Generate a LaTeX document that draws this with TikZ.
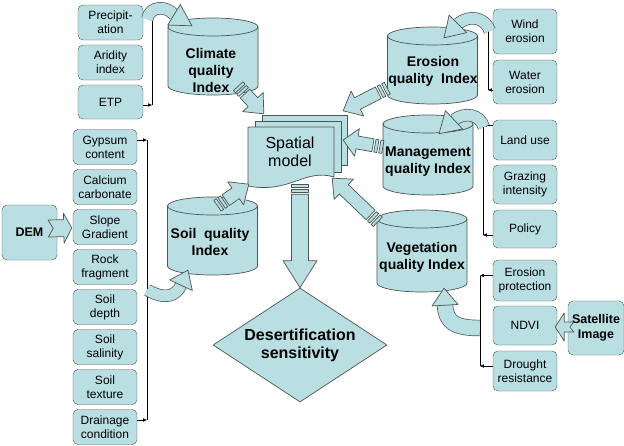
\documentclass[tikz,border=0pt]{standalone}
\usepackage{fontspec}
\setmainfont{Liberation Sans}
\usetikzlibrary{calc,shapes.geometric,arrows.meta}

\definecolor{boxc}{RGB}{185,223,226}
\definecolor{linec}{RGB}{75,85,85}

\tikzset{
  factor/.style={draw=linec, fill=boxc, rounded corners=5pt, align=center, inner sep=1pt,
    minimum width=64pt, font=\fontsize{12}{14}\selectfont},
  source/.style={factor, font=\bfseries\fontsize{12.5}{15}\selectfont},
  cyltext/.style={align=center, font=\bfseries\fontsize{14}{17}\selectfont},
  cylbody/.style={draw=linec, fill=boxc, line width=0.7pt},
  bus/.style={black, line width=0.5pt},
  branch/.style={bus, -{Latex[length=4pt,width=3.5pt]}},
  fat/.style={draw=linec, fill=boxc, line width=0.7pt, line join=round},
  curvy/.style={draw=linec, line width=0.7pt, double=boxc, double distance=#1},
}

% straight block arrow with a striped tail: from, to, shaft half width, head half width, head length
\newcommand\bandpiece[3]{%
  \coordinate (bP) at ($(bA)!#1pt!(bB)$);
  \coordinate (bQ) at ($(bA)!#2pt!(bB)$);
  \filldraw[fat] ($(bP)!#3pt!90:(bB)$) -- ($(bQ)!#3pt!-90:(bA)$) -- ($(bQ)!#3pt!90:(bA)$) -- ($(bP)!#3pt!-90:(bB)$) -- cycle;
}
\newcommand\stripearrow[5]{%
  \coordinate (bA) at (#1);
  \coordinate (bB) at (#2);
  \coordinate (bC) at ($(bB)!#5pt!(bA)$);
  \coordinate (bS) at ($(bA)!10pt!(bB)$);
  \filldraw[fat] ($(bS)!#3pt!90:(bB)$) -- ($(bC)!#3pt!-90:(bA)$) -- ($(bC)!#4pt!-90:(bA)$) -- (bB)
    -- ($(bC)!#4pt!90:(bA)$) -- ($(bC)!#3pt!90:(bA)$) -- ($(bS)!#3pt!-90:(bB)$) -- cycle;
  \bandpiece{0}{3}{#3}
  \bandpiece{5}{8}{#3}
}
% block arrow with a notched tail: from, to, shaft, head, head length, notch
\newcommand\notcharrow[6]{%
  \coordinate (bA) at (#1);
  \coordinate (bB) at (#2);
  \coordinate (bC) at ($(bB)!#5pt!(bA)$);
  \coordinate (bN) at ($(bA)!#6pt!(bB)$);
  \filldraw[fat] ($(bA)!#3pt!90:(bB)$) -- ($(bC)!#3pt!-90:(bA)$) -- ($(bC)!#4pt!-90:(bA)$) -- (bB)
    -- ($(bC)!#4pt!90:(bA)$) -- ($(bC)!#3pt!90:(bA)$) -- ($(bA)!#3pt!-90:(bB)$) -- (bN) -- cycle;
}
% head of a bent arrow: base, tip, half width
\newcommand\tiphead[3]{%
  \coordinate (bA) at (#1);
  \coordinate (bB) at (#2);
  \filldraw[fat] ($(bA)!#3pt!90:(bB)$) -- (bB) -- ($(bA)!#3pt!-90:(bB)$) -- cycle;
}
% index cylinder: name, centre x, top, bottom
\newcommand\cylshape[4]{%
  \filldraw[cylbody] (#2-45,#3+9) -- (#2-45,#4-9) arc[start angle=180, end angle=360, x radius=45pt, y radius=9pt]
    -- (#2+45,#3+9) arc[start angle=0, end angle=180, x radius=45pt, y radius=9pt] -- cycle;
  \draw[cylbody, fill=none] (#2-45,#3+9) arc[start angle=180, end angle=360, x radius=45pt, y radius=9pt];
  \node[inner sep=0pt, minimum width=90pt, minimum height={#4-#3}] (#1) at ({#2},{(#3+#4)/2}) {};
}

\begin{document}
\begin{tikzpicture}[x=1pt, y=-1pt]
  \useasboundingbox (0,0) rectangle (624,445);

  % climate inputs
  \node[factor, minimum width=65pt, minimum height=35pt] (prec) at (110.5,22.5) {Precipit-\\ation};
  \node[factor, minimum width=65pt, minimum height=35pt] (arid) at (110.5,62.5) {Aridity\\index};
  \node[factor, minimum width=65pt, minimum height=34pt] (etp) at (110.5,102) {ETP};

  % soil inputs
  \foreach \txt [count=\i] in {{Gypsum\\content},{Calcium\\carbonate},{Slope\\Gradient},{Rock\\fragment},
      {Soil\\depth},{Soil\\salinity},{Soil\\texture},{Drainage\\condition}} {%
    \node[factor, minimum height=35pt] (s\i) at (105,{107+40*\i}) {\txt};
  }
  \node[source, minimum width=55pt, minimum height=55pt] (dem) at (29.5,232.5) {DEM};

  % right hand inputs
  \node[factor, minimum height=45pt] (wind) at (525,31.5) {Wind\\erosion};
  \node[factor, minimum height=44pt] (water) at (525,82) {Water\\erosion};
  \node[factor, minimum height=40pt] (land) at (525,140) {Land use};
  \node[factor, minimum height=39pt] (graz) at (525,184.5) {Grazing\\intensity};
  \node[factor, minimum height=38pt] (pol) at (525,229) {Policy};
  \node[factor, minimum height=41pt] (eprot) at (525,280.5) {Erosion\\protection};
  \node[factor, minimum height=39pt] (ndvi) at (525,325.5) {NDVI};
  \node[factor, minimum height=40pt] (drou) at (525,371) {Drought\\resistance};
  \node[source, minimum width=56pt, minimum height=54pt] (sat) at (596,328) {Satellite\\Image};

  % bus lines
  \draw[bus] ($(prec.east)+(9,-7)$) -- ($(etp.east)+(9,3)$);
  \draw[branch] ($(prec.east)+(0,-7)$) -- ++(9,0);
  \draw[branch] ($(etp.east)+(0,3)$) -- ++(9,0);
  \draw[bus] ($(s1.east)+(10,-7)$) -- ($(s8.east)+(10,-7)$);
  \draw[branch] ($(s1.east)+(0,-7)$) -- ++(10,0);
  \draw[branch] ($(s8.east)+(0,-7)$) -- ++(10,0);
  \draw[bus] ($(wind.west)+(-5,-7)$) -- ($(water.west)+(-5,8)$);
  \draw[branch] ($(wind.west)+(0,-7)$) -- ++(-5,0);
  \draw[branch] ($(water.west)+(0,8)$) -- ++(-5,0);
  \draw[bus] ($(land.west)+(-10,-15)$) -- ($(pol.west)+(-10,6)$);
  \draw[branch] ($(land.west)+(0,-15)$) -- ++(-10,0);
  \draw[branch] ($(pol.west)+(0,6)$) -- ++(-10,0);
  \draw[bus] ($(eprot.west)+(-13,-5)$) -- ($(drou.west)+(-13,-5)$);
  \draw[branch] ($(eprot.west)+(0,-5)$) -- ++(-13,0);
  \draw[branch] ($(drou.west)+(0,-5)$) -- ++(-13,0);

  % index cylinders
  \cylshape{clim}{213}{18}{95}
  \cylshape{eros}{432.5}{27}{104}
  \cylshape{mgmt}{428}{115}{195}
  \cylshape{soil}{212.5}{197}{275}
  \cylshape{veg}{422}{210}{292}

  % bent arrows into the cylinders
  \draw[curvy=11pt] ($(prec.east)+(4,-3.5)$) .. controls +(3,-14) and +(-7,-9) .. ($(clim.north)+(-39,-3)$);
  \tiphead{$(clim.north)+(-39,-3)$}{$(clim.north)+(-21,8)$}{12}
  \draw[curvy=11pt] ($(wind.west)+(-3,-0.5)$) .. controls +(-4,-13) and +(12,-10) .. ($(eros.north)+(25.5,-3)$);
  \tiphead{$(eros.north)+(25.5,-3)$}{$(eros.north)+(11.5,11)$}{12.5}
  \draw[curvy=11pt] ($(land.west)+(-9,-13)$) .. controls +(-4,-13) and +(11,-8) .. ($(mgmt.north)+(26,5)$);
  \tiphead{$(mgmt.north)+(26,5)$}{$(mgmt.north)+(11,19)$}{12.5}
  \draw[curvy=11pt] ($(s5.east)+(10,-17)$) .. controls +(18,10) and +(-5,11) .. ($(soil.south)+(-31.5,10)$);
  \tiphead{$(soil.south)+(-31.5,10)$}{$(soil.south)+(-24.5,-5)$}{12.5}
  \draw[curvy=15pt] ($(ndvi.west)+(-13,2.5)$) .. controls +(-25,0) and +(1,17) .. ($(veg.south)+(23,13)$);
  \tiphead{$(veg.south)+(23,13)$}{$(veg.south)+(22,-4)$}{13}

  % spatial model
  \filldraw[fat] (262,115) rectangle (347,165);
  \filldraw[fat] (255,121) rectangle (341,172);
  \filldraw[fat] (248,127) -- (334,127) -- (334,177) .. controls (305,168) and (290,194) .. (248,186) -- cycle;
  \node[align=center, inner sep=0pt, minimum width=86pt, minimum height=60pt,
    font=\fontsize{16}{18}\selectfont] (spat) at (290,152) {Spatial\\model};

  % outcome
  \node[diamond, draw=linec, fill=boxc, line width=0.7pt, aspect=1.53, minimum width=174pt,
    minimum height=114pt, inner sep=1pt, align=center,
    font=\bfseries\fontsize{16}{18}\selectfont] (dese) at (300,345) {Desertification\\sensitivity};

  % block arrows
  \stripearrow{$(clim.south east)+(-20,-9)$}{$(spat.north west)+(17,-8)$}{6.5}{14}{16}
  \stripearrow{$(eros.south west)+(0,-16)$}{$(spat.north east)+(10,-11)$}{6.5}{14}{16}
  \stripearrow{$(mgmt.west)+(0,-8)$}{$(spat.east)+(10,-12)$}{6.5}{14}{14}
  \stripearrow{$(veg.north west)+(1,12)$}{$(spat.south east)+(-1,-4)$}{6.5}{14}{16}
  \stripearrow{$(soil.north)+(5,9)$}{$(spat.south west)+(2,2)$}{6.5}{14}{16}
  \stripearrow{$(spat.south)+(10,2)$}{dese.north}{8.5}{17}{27}
  \notcharrow{$(dem.east)+(-9,-4)$}{$(s3.west)+(-1,1)$}{8.5}{15}{8}{5}
  \notcharrow{$(sat.west)+(6,-1)$}{$(ndvi.east)+(-2,1.5)$}{5}{14}{9}{4}

  % cylinder labels
  \node[cyltext] (climt) at (211,70) {Climate\\quality\\Index};
  \node[cyltext] (erost) at (433,71.5) {Erosion\\quality\ \ Index};
  \node[cyltext] (mgmtt) at (428,161.5) {Management\\quality Index};
  \node[cyltext] (soilt) at (210,241.5) {Soil\ \ quality\\Index};
  \node[cyltext] (vegt) at (422,257) {Vegetation\\quality Index};
\end{tikzpicture}
\end{document}
